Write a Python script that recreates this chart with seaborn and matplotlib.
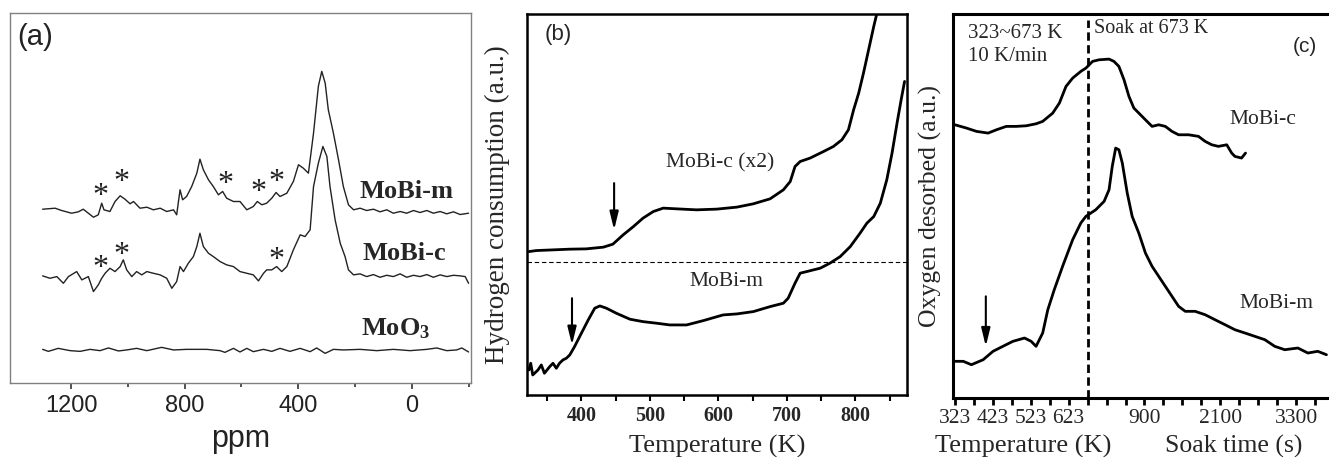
import numpy as np
import pandas as pd
import seaborn as sns
import matplotlib
matplotlib.use("Agg")
import matplotlib.pyplot as plt
from matplotlib.transforms import blended_transform_factory

# ---------------- data: panel (a) NMR spectra ----------------
a_m_ppm = [1300, 1256, 1233, 1198, 1174, 1157, 1139, 1121, 1104, 1092, 1084, 1063, 1045, 1027, 1010, 992, 980,
           957, 933, 910, 886, 863, 839, 828, 816, 807, 793, 775, 757, 746, 734, 716, 699, 681, 666, 652, 628,
           605, 581, 558, 544, 528, 511, 493, 478, 464, 440, 417, 399, 382, 364, 346, 329, 317, 305, 294, 276,
           258, 241, 223, 205, 182, 159, 135, 112, 88, 65, 41, 18, -6, -29, -53, -76, -100, -123, -147, -170, -200]
a_m_int = [173.3, 174.3, 172, 169.3, 170.7, 173.3, 169.3, 165.3, 167.7, 179.3, 172.7, 171, 181, 186.7, 183.3,
           178.7, 181, 174.3, 175.3, 172.7, 174.3, 171, 172.7, 167.7, 192.7, 182.7, 186, 196, 209.3, 223.3, 212.7,
           202.7, 196, 187.7, 191, 184.3, 181, 181, 172.7, 176, 181, 177.7, 179.3, 184.3, 190, 186, 189.3, 201,
           217.7, 214.3, 209.3, 249.3, 296, 311, 299.3, 272.7, 249.3, 222.7, 196, 177.7, 172.7, 174.3, 172,
           173.3, 170.7, 172.7, 169.3, 171, 169.3, 172, 170, 172, 169.3, 171, 168.7, 170.7, 168, 169.3]

a_c_ppm = [1300, 1274, 1250, 1227, 1209, 1180, 1162, 1139, 1121, 1104, 1092, 1080, 1063, 1045, 1027, 1016, 1004,
           986, 969, 951, 933, 910, 886, 863, 845, 828, 816, 804, 787, 769, 757, 746, 734, 716, 699, 675, 652,
           628, 605, 581, 558, 540, 522, 511, 493, 476, 458, 440, 417, 393, 376, 358, 346, 329, 313, 299, 288,
           270, 252, 235, 223, 205, 182, 159, 135, 112, 88, 65, 41, 18, -6, -29, -53, -76, -100, -123, -147,
           -170, -188, -200]
a_c_int = [106.7, 104.3, 106, 99.3, 106, 111, 102.7, 106, 91, 97.7, 104.3, 109.3, 114.3, 111, 116, 122.7, 112.7,
           106, 111, 107.7, 111, 109.3, 107.7, 104.3, 94.3, 101, 116, 111, 119.3, 126, 136, 149.3, 136, 129.3,
           126, 121, 117.7, 116, 111, 109.3, 107.7, 101.7, 109.3, 112.7, 112.7, 116, 111, 116, 132.7, 147.7,
           146, 152.7, 196, 219.3, 236, 226, 196, 162.7, 139.3, 126, 112.7, 107.7, 108.7, 106, 108, 105.3,
           107.3, 106, 108.7, 105.3, 107.3, 106, 108, 105.3, 107.7, 106, 107.3, 106.7, 106, 99.3]

a_o_ppm = [1300, 1280, 1245, 1203, 1168, 1133, 1098, 1068, 1033, 1004, 969, 933, 881, 839, 793, 722, 675, 658,
           628, 605, 581, 558, 522, 493, 464, 429, 393, 358, 335, 305, 276, 241, 182, 123, 65, 6, -53, -88,
           -123, -158, -176, -200]
a_o_int = [33.3, 31.3, 34.3, 32, 31.3, 33.3, 32, 34.7, 31.7, 32.7, 34.3, 32, 35.3, 32.7, 33.3, 33.3, 32, 30.3,
           34.3, 30.7, 34.3, 31, 33.3, 31.3, 34.3, 31.3, 34.3, 31, 34.7, 29.3, 33.3, 32.7, 33.3, 32, 33.3, 32,
           33.3, 34.7, 32, 32.7, 34.7, 30.7]
a_labels = ["MoBi-m", "MoBi-c", r"$\mathbf{MoO_3}$"]
a_ticks = [1200, 800, 400, 0]

# ---------------- data: panel (b) H2-TPR ----------------
b_c_T = [323.4, 334, 358.5, 383, 407, 432, 446, 461, 476, 490, 505, 519.5, 539, 568, 597.5, 627, 651, 675.6,
         695, 705, 712, 719.5, 734, 753.7, 768, 780.5, 790, 797.6, 805, 812, 819.5, 827, 834]
b_c_h = [143.3, 144.3, 145, 145.7, 146, 147.7, 150.7, 160, 168.3, 176.7, 183.3, 186.7, 186, 185, 185.7, 187.7,
         191, 196, 205, 213.3, 228.3, 233.3, 236.7, 243.3, 248.3, 255, 265, 285, 301.7, 321.7, 345, 368.3, 388.3]
b_m_T = [323.4, 326, 329, 336.6, 341.5, 346, 353.7, 358.5, 363.4, 368, 373, 378, 383, 390, 400, 410, 419.5,
         427, 436.6, 451, 471, 490, 510, 529, 553.7, 578, 607, 627, 651, 675.6, 695, 702, 712, 719.5, 729,
         748.8, 763, 778, 792.7, 807, 817, 827, 836.6, 846, 853.7, 861, 867, 872]
b_m_h = [25, 31.7, 20, 25, 30, 21.7, 28.3, 31.7, 26.7, 31.7, 35, 36.7, 40, 48.3, 61.7, 75, 86.7, 89, 86.7,
         81.7, 75.7, 73.3, 71.7, 70, 70, 74.3, 80, 81, 83.3, 88.3, 91.7, 96.7, 111.7, 121.7, 123.3, 126.7,
         131.7, 138.3, 148.3, 161.7, 171.7, 178.3, 191.7, 215, 241.7, 271.7, 295, 313.3]
b_ticks = [400, 500, 600, 700, 800]
b_baseline = 133.3

# ---------------- data: panel (c) O2-TPD (x = tick-step position) ----------------
c_c_x = [0, 0.61, 1.14, 1.75, 2.19, 2.71, 3.23, 3.76, 4.28, 4.63, 5.16, 5.51, 5.86, 6.21, 6.64, 6.91, 7.26,
         7.6, 8.13, 8.39, 8.65, 8.92, 9.18, 9.44, 9.7, 10.05, 10.4, 10.75, 11.1, 11.45, 11.8, 12.33, 12.85,
         13.2, 13.55, 13.9, 14.34, 14.6, 14.77, 15.12, 15.33]
c_c_o = [273.3, 270, 266.7, 265, 268.3, 271.7, 271.7, 272.3, 274.3, 276.7, 285, 295, 311.7, 320, 326.7, 330,
         336.7, 338.3, 339, 336.7, 331.7, 318.3, 301.7, 290, 285, 278.3, 271.7, 273.3, 271.7, 266.7, 263.3,
         263.3, 261.7, 256.7, 253.3, 251.7, 253.3, 245, 241.7, 240, 245]
c_m_x = [0, 0.44, 0.87, 1.49, 2.01, 2.53, 3.06, 3.67, 4.02, 4.28, 4.63, 4.9, 5.24, 5.68, 6.21, 6.64, 6.91,
         7.43, 7.87, 8.13, 8.3, 8.48, 8.65, 8.83, 9.09, 9.35, 9.7, 10.05, 10.4, 10.75, 11.1, 11.45, 11.8,
         12.15, 12.67, 13.2, 13.72, 14.25, 14.77, 15.3, 15.82, 16.35, 16.87, 17.4, 18.09, 18.62, 19.14, 19.6]
c_m_o = [36.7, 36.7, 33.3, 38.3, 46.7, 51.7, 56.7, 60, 56.7, 51.7, 65, 88.3, 108.3, 131.7, 158.3, 175, 181.7,
         188.3, 196.7, 208.3, 231.7, 250, 248.3, 235, 205, 181.7, 165, 145, 131.7, 121.7, 111.7, 101.7, 91.7,
         86.7, 86.7, 83.3, 78.3, 73.3, 68.3, 65, 61.7, 58.3, 51.7, 48.3, 50, 45, 46.7, 43.3]
c_tick_pos = [0, 2, 4, 6, 10, 14, 18]
c_tick_lab = ["323", "423", "523", "623", "900", "2100", "3300"]
c_soak_start = 7

# ---------------- style ----------------
sns.set_theme(style="white")
plt.rcParams["font.family"] = ["Liberation Serif", "DejaVu Serif"]
plt.rcParams["mathtext.fontset"] = "custom"
plt.rcParams["mathtext.rm"] = "Liberation Serif"
plt.rcParams["mathtext.bf"] = "Liberation Serif:bold"
SERIF = ["Liberation Serif", "DejaVu Serif"]
SANS = ["Liberation Sans", "DejaVu Sans"]

fig = plt.figure(figsize=(13.29, 4.57), dpi=100)
axA = fig.add_axes([0.0075, 0.1626, 0.347, 0.8083])
axB = fig.add_axes([0.3965, 0.1357, 0.286, 0.8337])
axC = fig.add_axes([0.7171, 0.1291, 0.2867, 0.840])

# ---------- panel (a) ----------
for xs, ys in [(a_m_ppm, a_m_int), (a_c_ppm, a_c_int), (a_o_ppm, a_o_int)]:
    df = pd.DataFrame({"ppm": xs, "I": ys})
    sns.lineplot(data=df, x="ppm", y="I", ax=axA, color="#222222", lw=1.0, estimator=None, sort=False)
axA.set_xlim(1415, -209)
axA.set_ylim(0, 369)
axA.set_xticks(a_ticks)
axA.set_xticks([1000, 600, 200, -200], minor=True)
axA.set_xticklabels([str(t) for t in a_ticks], family=SANS, fontsize=17, color="#222222")
axA.tick_params(axis="x", which="major", direction="out", length=4, width=1.2, color="#333333", pad=5,
                bottom=True)
axA.tick_params(axis="x", which="minor", direction="out", length=3, width=1.2, color="#333333", bottom=True)
axA.tick_params(axis="y", left=False, labelleft=False)
axA.set_ylabel("")
axA.set_xlabel("ppm", family=SANS, fontsize=22, color="#222222", labelpad=5)
for s in axA.spines.values():
    s.set_color("#808080")
    s.set_linewidth(1.0)
axA.text(1390, 345, "(a)", family=SANS, fontsize=21, ha="left", va="center", color="#222222")
axA.text(18, 191, a_labels[0], family=SERIF, fontsize=19, fontweight="bold", ha="center", va="center")
axA.text(25, 129, a_labels[1], family=SERIF, fontsize=19, fontweight="bold", ha="center", va="center")
axA.text(55, 54, a_labels[2], fontsize=19, ha="center", va="center")
stars = [(1098, 190), (1021, 203), (655, 201), (540, 193), (478, 203), (1098, 118), (1021, 131), (478, 126)]
for sx, sy in stars:
    axA.text(sx, sy - 11, "*", family=SERIF, fontsize=23, ha="center", va="baseline", color="#222222")

# ---------- panel (b) ----------
for xs, ys in [(b_c_T, b_c_h), (b_m_T, b_m_h)]:
    df = pd.DataFrame({"T": xs, "H": ys})
    sns.lineplot(data=df, x="T", y="H", ax=axB, color="black", lw=2.0, estimator=None, sort=False)
axB.axhline(b_baseline, color="black", lw=0.8, ls=(0, (4, 2.5)))
axB.set_xlim(320.5, 875.6)
axB.set_ylim(0, 380.7)
axB.set_xticks(b_ticks)
axB.set_xticks([350, 450, 550, 650, 750, 850], minor=True)
axB.set_xticklabels([str(t) for t in b_ticks], family=SERIF, fontsize=14.5, fontweight="bold")
axB.tick_params(axis="x", which="both", direction="out", length=4, width=1.5, color="black", pad=4,
                bottom=True)
axB.tick_params(axis="y", left=False, labelleft=False)
axB.set_xlabel("Temperature (K)", family=SERIF, fontsize=19, labelpad=6)
axB.set_ylabel("Hydrogen consumption (a.u.)", family=SERIF, fontsize=19.5, labelpad=12)
for s in axB.spines.values():
    s.set_color("black")
    s.set_linewidth(1.8)
axB.text(366, 360, "(b)", family=SANS, fontsize=16, ha="center", va="center")
axB.text(602, 231.7, "MoBi-c (x2)", family=SERIF, fontsize=15.5, ha="center", va="center")
axB.text(612, 113.3, "MoBi-m", family=SERIF, fontsize=15.5, ha="center", va="center")
arrow = dict(arrowstyle="-|>,head_width=0.22,head_length=0.9", lw=1.5, color="black", shrinkA=0, shrinkB=0)
axB.annotate("", xy=(447.8, 165), xytext=(447.8, 211.7), arrowprops=arrow)
axB.annotate("", xy=(386.3, 50), xytext=(386.3, 96.7), arrowprops=arrow)

# ---------- panel (c) ----------
for xs, ys in [(c_c_x, c_c_o), (c_m_x, c_m_o)]:
    df = pd.DataFrame({"x": xs, "O": ys})
    sns.lineplot(data=df, x="x", y="O", ax=axC, color="black", lw=2.0, estimator=None, sort=False)
axC.axvline(c_soak_start, ymin=0, ymax=0.985, color="black", lw=2, ls=(0, (3, 1.6)))
axC.set_xlim(-0.1, 20.0)
axC.set_ylim(0, 384)
axC.set_xticks(c_tick_pos)
axC.set_xticklabels(c_tick_lab, family=SERIF, fontsize=15.5)
axC.set_xticks([t for t in range(20) if t not in c_tick_pos], minor=True)
axC.tick_params(axis="x", which="both", direction="out", length=5, width=2, color="black", pad=3,
                bottom=True)
axC.tick_params(axis="y", left=False, labelleft=False)
axC.set_xlabel("")
axC.set_ylabel("Oxygen desorbed (a.u.)", family=SERIF, fontsize=18.5, labelpad=8)
for s in axC.spines.values():
    s.set_color("black")
    s.set_linewidth(2.2)
tr = blended_transform_factory(axC.transData, axC.transAxes)
axC.text(3.6, -0.125, "Temperature (K)", family=SERIF, fontsize=19, ha="center", va="center", transform=tr)
axC.text(14.7, -0.125, "Soak time (s)", family=SERIF, fontsize=18.5, ha="center", va="center", transform=tr)
axC.text(0.7, 365, "323~673 K", family=SERIF, fontsize=15, ha="left", va="center")
axC.text(0.7, 341.7, "10 K/min", family=SERIF, fontsize=15, ha="left", va="center")
axC.text(7.34, 370, "Soak at 673 K", family=SERIF, fontsize=14.5, ha="left", va="center")
axC.text(18.44, 351.7, "(c)", family=SANS, fontsize=15, ha="center", va="center")
axC.text(16.26, 278.3, "MoBi-c", family=SERIF, fontsize=15.5, ha="center", va="center")
axC.text(16.96, 95, "MoBi-m", family=SERIF, fontsize=15.5, ha="center", va="center")
axC.annotate("", xy=(1.63, 51.7), xytext=(1.63, 101.7), arrowprops=arrow)

for ax in (axA, axB, axC):
    ax.set_facecolor("white")
    ax.grid(False)

fig.savefig("out.png", dpi=100, facecolor="white")
